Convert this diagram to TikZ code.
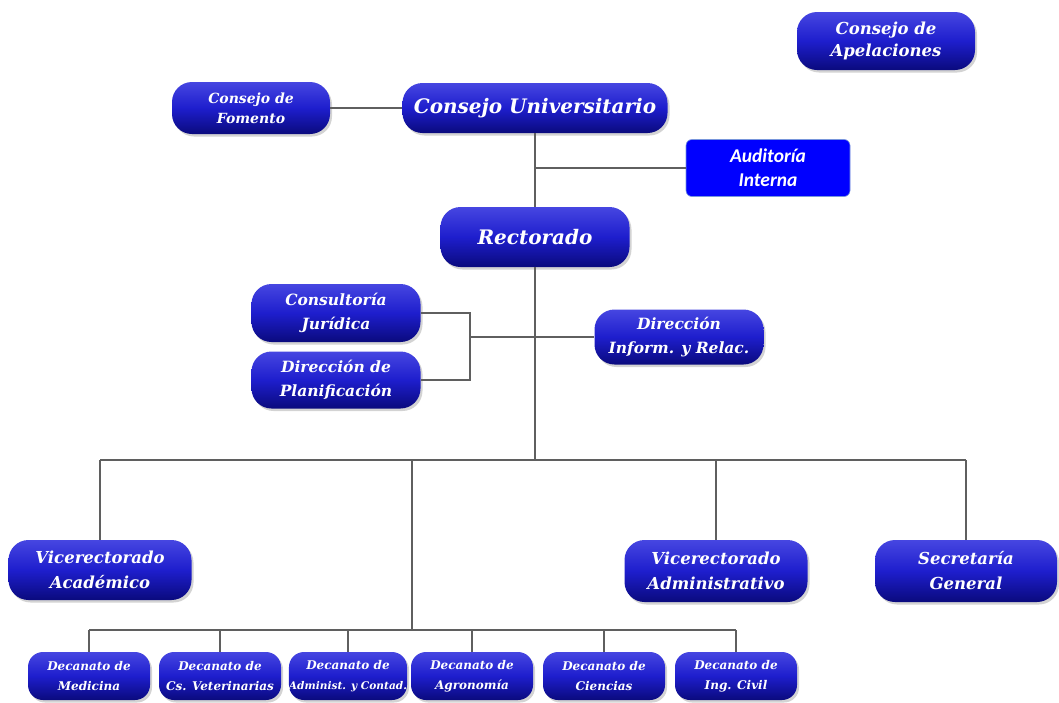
\documentclass[tikz,border=0pt]{standalone}
\usepackage{fontspec}
\setmainfont{DejaVu Serif}
\newfontfamily\audfont{Carlito}
\usetikzlibrary{shadows}
\definecolor{boxtop}{RGB}{70,70,225}
\definecolor{boxmid}{RGB}{30,30,205}
\definecolor{boxbot}{RGB}{10,10,125}
\definecolor{linegray}{RGB}{95,95,95}
\definecolor{audblue}{RGB}{0,0,255}
\definecolor{audedge}{RGB}{120,150,220}
\begin{document}
\begin{tikzpicture}[x=1pt,y=-1pt,
  orgbox/.style={rectangle, rounded corners=20pt, top color=boxtop, bottom color=boxbot, middle color=boxmid,
    text=white, align=center, inner sep=0pt,
    drop shadow={shadow xshift=2pt,shadow yshift=-2.5pt,opacity=0.35}},
  fs/.style 2 args={font=\bfseries\itshape\fontsize{#1}{#2}\selectfont},
  conn/.style={draw=linegray, line width=2pt}]
\useasboundingbox (0,0) rectangle (1059,702);

% top
\node[orgbox, minimum width=178pt, minimum height=58pt, fs={16.5}{22}] (apel) at (886,41) {Consejo de\\Apelaciones};
\node[orgbox, minimum width=158pt, minimum height=52pt, fs={14}{20}] (fom) at (251,108) {Consejo de\\Fomento};
\node[orgbox, minimum width=265pt, minimum height=50pt, fs={20}{22}] (univ) at (535,108) {Consejo Universitario};
\node[rectangle, rounded corners=6pt, fill=audblue, draw=audedge, line width=0.6pt, text=white, align=center,
  minimum width=164pt, minimum height=57pt, inner sep=0pt,
  font=\audfont\bfseries\itshape\fontsize{19.5}{24}\selectfont] (aud) at (768,168) {Auditoría\\Interna};
\node[orgbox, minimum width=189pt, minimum height=60pt, fs={20}{22}] (rect) at (535,237) {Rectorado};

% staff
\node[orgbox, minimum width=169pt, minimum height=58pt, fs={15.5}{24}] (cons) at (336,313) {Consultoría\\Jurídica};
\node[orgbox, minimum width=169pt, minimum height=57pt, fs={15.5}{24}] (plan) at (336,380) {Dirección de\\Planificación};
\node[orgbox, minimum width=169pt, minimum height=55pt, fs={15.5}{24}] (dir) at (679,337) {Dirección\\Inform. y Relac.};

% second level
\node[orgbox, minimum width=183pt, minimum height=60pt, fs={16.5}{25}] (vaca) at (100,570) {Vicerectorado\\Académico};
\node[orgbox, minimum width=183pt, minimum height=62pt, fs={16.5}{25}] (vadm) at (716,571) {Vicerectorado\\Administrativo};
\node[orgbox, minimum width=182pt, minimum height=62pt, fs={16.5}{25}] (sec) at (966,571) {Secretaría\\General};

% decanatos
\begin{scope}[every node/.append style={orgbox, rounded corners=15pt, minimum width=122pt, minimum height=48pt, fs={12}{20}}]
\node (d1) at (89,676) {Decanato de\\Medicina};
\node (d2) at (220,676) {Decanato de\\Cs. Veterinarias};
\node[minimum width=110pt] (d3) at (348,676) {Decanato de\\{\fontsize{10.6}{20}\selectfont Administ. y Contad.}};
\node (d4) at (472,676) {Decanato de\\Agronomía};
\node (d5) at (604,676) {Decanato de\\Ciencias};
\node (d6) at (736,676) {Decanato de\\Ing. Civil};
\end{scope}

% connectors
\draw[conn] (fom.east) -- (univ.west);
\draw[conn] (univ.south) -- (rect.north);
\draw[conn] (univ.south |- aud.west) -- (aud.west);
\coordinate (bus) at (535,460);
\draw[conn] (rect.south) -- (bus);
\coordinate (br) at (470,337);
\draw[conn] (br) -- (dir.west);
\draw[conn] (cons.east) -| (br) |- (plan.east);
\draw[conn] (vaca.north |- bus) -- (sec.north |- bus);
\draw[conn] (vaca.north |- bus) -- (vaca.north);
\draw[conn] (vadm.north |- bus) -- (vadm.north);
\draw[conn] (sec.north |- bus) -- (sec.north);
\coordinate (dtop) at (412,460);
\coordinate (dbus) at (412,630);
\draw[conn] (dtop) -- (dbus);
\draw[conn] (d1.north |- dbus) -- (d6.north |- dbus);
\foreach \d in {d1,d2,d3,d4,d5,d6} \draw[conn] (\d.north |- dbus) -- (\d.north);
\end{tikzpicture}
\end{document}
